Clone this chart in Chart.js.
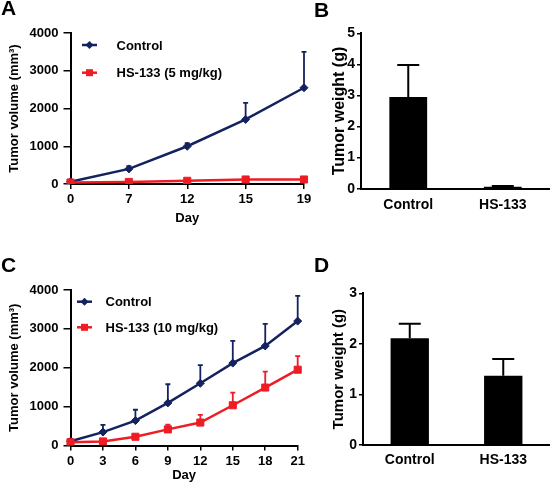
<!DOCTYPE html>
<html>
<head>
<meta charset="utf-8">
<script src="https://cdn.jsdelivr.net/npm/chart.js@4.4.0/dist/chart.umd.min.js"></script>
<style>
  body { margin: 0; background: #fff; }
  #wrap { position: relative; width: 550px; height: 483px; overflow: hidden; font-family: 'Liberation Sans', Arial, sans-serif; }
  canvas { position: absolute; }
  .panel { position: absolute; font-weight: bold; font-size: 21px; line-height: 1; color: #000; }
</style>
</head>
<body>
<div id="wrap">
  <canvas id="chartA" width="325" height="226" style="left:0;top:0"></canvas>
  <canvas id="chartB" width="250" height="215" style="left:300px;top:0"></canvas>
  <canvas id="chartC" width="325" height="243" style="left:0;top:240px"></canvas>
  <canvas id="chartD" width="250" height="243" style="left:300px;top:240px"></canvas>
  <div class="panel" style="left:1px;top:-3px">A</div>
  <div class="panel" style="left:314px;top:-1px">B</div>
  <div class="panel" style="left:1px;top:254px">C</div>
  <div class="panel" style="left:314px;top:254px">D</div>
</div>
<script>
// ===============================
// Data
// ===============================
const daysA = ['0', '7', '12', '15', '19'];
const controlA = [60, 400, 1000, 1710, 2550];
const controlErrA = [15, 70, 80, 440, 950];
const hsA = [40, 55, 85, 120, 120];
const hsErrA = [10, 15, 20, 25, 20];

const daysC = ['0', '3', '6', '9', '12', '15', '18', '21'];
const controlC = [110, 345, 640, 1095, 1600, 2120, 2560, 3200];
const controlErrC = [60, 185, 280, 480, 465, 570, 570, 650];
const hsC = [85, 105, 225, 415, 590, 1035, 1490, 1950];
const hsErrC = [35, 45, 50, 120, 200, 325, 410, 350];

const groups = ['Control', 'HS-133'];
const weightB = [2.95, 0.06];
const weightErrB = [1.03, 0.03];
const weightD = [2.11, 1.37];
const weightErrD = [0.29, 0.33];

const NAVY = '#14235f';
const RED = '#ee1c25';
const FONT = "'Liberation Sans', Arial, sans-serif";

Chart.defaults.font.family = FONT;
Chart.defaults.color = '#000';

// plain numbers on the axes, no thousands separator
const plainTick = v => String(v);

// ===============================
// Plugins
// ===============================
// upper error bars, drawn from each point / bar top
const errorBars = {
  id: 'errorBars',
  beforeDatasetsDraw(chart, args, opts) {
    const ctx = chart.ctx;
    const y = chart.scales.y;
    chart.data.datasets.forEach((ds, i) => {
      if (!ds.errors) return;
      const meta = chart.getDatasetMeta(i);
      ctx.save();
      ctx.strokeStyle = ds.errorColor;
      ctx.lineWidth = opts.lineWidth;
      meta.data.forEach((el, j) => {
        const err = ds.errors[j];
        if (!err) return;
        const y0 = y.getPixelForValue(ds.data[j]);
        const y1 = y.getPixelForValue(ds.data[j] + err);
        ctx.beginPath();
        ctx.moveTo(el.x, y0);
        ctx.lineTo(el.x, y1);
        ctx.moveTo(el.x - opts.cap / 2, y1);
        ctx.lineTo(el.x + opts.cap / 2, y1);
        ctx.stroke();
      });
      ctx.restore();
    });
  }
};

// legend inside the plot, line with marker in the middle
const insetLegend = {
  id: 'insetLegend',
  afterDraw(chart, args, opts) {
    const { ctx, chartArea } = chart;
    chart.data.datasets.forEach((ds, i) => {
      const x = chartArea.left + opts.left;
      const y = chartArea.top + opts.top + i * opts.gap;
      ctx.save();
      ctx.strokeStyle = ds.borderColor;
      ctx.fillStyle = ds.borderColor;
      ctx.lineWidth = ds.borderWidth;
      ctx.beginPath();
      ctx.moveTo(x, y);
      ctx.lineTo(x + 15, y);
      ctx.stroke();
      const cx = x + 7.5;
      ctx.beginPath();
      if (ds.pointStyle === 'rectRot') {
        ctx.moveTo(cx, y - 4); ctx.lineTo(cx + 4, y); ctx.lineTo(cx, y + 4); ctx.lineTo(cx - 4, y);
        ctx.closePath();
      } else {
        ctx.rect(cx - 3.5, y - 3.5, 7, 7);
      }
      ctx.fill();
      ctx.fillStyle = '#000';
      ctx.font = 'bold 13px ' + FONT;
      ctx.textBaseline = 'middle';
      ctx.fillText(ds.label, x + opts.textGap, y + 1);
      ctx.restore();
    });
  }
};

// ===============================
// Chart builders
// ===============================
function lineSeries(label, data, errors, color, style, radius, order) {
  return {
    label: label,
    data: data,
    errors: errors,
    errorColor: color,
    borderColor: color,
    backgroundColor: color,
    borderWidth: 2.5,
    pointStyle: style,
    pointRadius: radius,
    pointBorderWidth: 1,
    tension: 0,
    order: order
  };
}

function lineChart(id, days, datasets, box, legend) {
  return new Chart(document.getElementById(id), {
    type: 'line',
    data: { labels: days, datasets: datasets },
    plugins: [errorBars, insetLegend],
    options: {
      responsive: false,
      animation: false,
      layout: { padding: { top: box.top, right: box.right, bottom: 0, left: 0 } },
      plugins: {
        legend: { display: false },
        tooltip: { enabled: false },
        errorBars: { cap: 5, lineWidth: 1.8 },
        insetLegend: legend
      },
      scales: {
        x: {
          offset: false,
          grid: { drawOnChartArea: false, tickLength: 5, color: '#000', lineWidth: 1.5 },
          border: { color: '#000', width: 2 },
          ticks: { font: { size: 13, weight: 'bold' }, padding: 3, maxRotation: 0, autoSkip: false },
          title: { display: true, text: 'Day', font: { size: 13, weight: 'bold' }, padding: 0 },
          afterFit: s => { s.height = box.xHeight; }
        },
        y: {
          min: 0,
          max: 4000,
          grid: { drawOnChartArea: false, tickLength: 7, color: '#000', lineWidth: 1.5 },
          border: { color: '#000', width: 2 },
          ticks: { stepSize: 1000, font: { size: 13, weight: 'bold' }, padding: 5, callback: plainTick },
          title: { display: true, text: 'Tumor volume (mm³)', font: { size: 13, weight: 'bold' }, padding: { top: 7, bottom: 0 } },
          afterFit: s => { s.width = box.yWidth; }
        }
      }
    }
  });
}

function barChart(id, values, errors, yMax, box) {
  return new Chart(document.getElementById(id), {
    type: 'bar',
    data: {
      labels: groups,
      datasets: [{
        data: values,
        errors: errors,
        errorColor: '#000',
        backgroundColor: '#000',
        barPercentage: box.barPct,
        categoryPercentage: 1
      }]
    },
    plugins: [errorBars],
    options: {
      responsive: false,
      animation: false,
      layout: { padding: { top: box.top, right: 0, bottom: 0, left: 0 } },
      plugins: {
        legend: { display: false },
        tooltip: { enabled: false },
        errorBars: { cap: 22, lineWidth: 2 }
      },
      scales: {
        x: {
          grid: { display: false, drawTicks: false },
          border: { color: '#000', width: 2 },
          ticks: { font: { size: 14, weight: 'bold' }, padding: box.tickPad },
          afterFit: s => { s.height = box.xHeight; }
        },
        y: {
          min: 0,
          max: yMax,
          grid: { drawOnChartArea: false, tickLength: 4, color: '#000', lineWidth: 1.5 },
          border: { color: '#000', width: 2 },
          ticks: { stepSize: 1, font: { size: 14, weight: 'bold' }, padding: 2, callback: plainTick },
          title: { display: true, text: 'Tumor weight (g)', font: { size: box.titleSize, weight: 'bold' }, padding: { top: 30, bottom: 0 } },
          afterFit: s => { s.width = box.yWidth; }
        }
      }
    }
  });
}

// ===============================
// Draw the four panels
// ===============================
lineChart('chartA', daysA, [
  lineSeries('Control', controlA, controlErrA, NAVY, 'rectRot', 4, 1),
  lineSeries('HS-133 (5 mg/kg)', hsA, hsErrA, RED, 'rect', 5, 0)
], { top: 33, right: 21, xHeight: 42, yWidth: 70.5 },
   { left: 11.5, top: 12, gap: 27.7, textGap: 34.5 });

lineChart('chartC', daysC, [
  lineSeries('Control', controlC, controlErrC, NAVY, 'rectRot', 4, 1),
  lineSeries('HS-133 (10 mg/kg)', hsC, hsErrC, RED, 'rect', 5, 0)
], { top: 50, right: 27.3, xHeight: 37.5, yWidth: 70.5 },
   { left: 6.5, top: 11.7, gap: 25.6, textGap: 28.5 });

barChart('chartB', weightB, weightErrB, 5,
  { top: 33.3, xHeight: 26.3, yWidth: 61, barPct: 0.4, tickPad: 8, titleSize: 16 });

barChart('chartD', weightD, weightErrD, 3,
  { top: 53.3, xHeight: 38, yWidth: 63, barPct: 0.41, tickPad: 7, titleSize: 15 });
</script>
</body>
</html>
